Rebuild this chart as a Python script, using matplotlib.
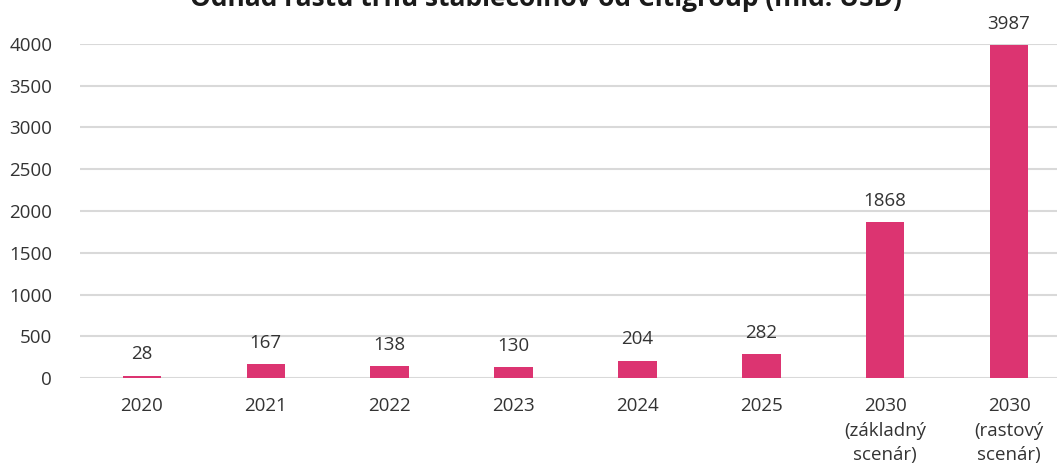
import matplotlib
matplotlib.use('Agg')
import matplotlib.pyplot as plt
import numpy as np

plt.rcParams['font.family'] = ['Open Sans', 'DejaVu Sans']

categories = ['2020', '2021', '2022', '2023', '2024', '2025',
              '2030\n(základný\nscenár)', '2030\n(rastový\nscenár)']
values = [28, 167, 138, 130, 204, 282, 1868, 3987]
title = 'Odhad rastu trhu stablecoinov od Citigroup (mld. USD)'

W, H = 1057, 468
fig = plt.figure(figsize=(W / 100, H / 100), dpi=100)
# axes extends slightly past the right edge, as in the cropped original
ax = fig.add_axes([80 / W, 90 / H, 991 / W, 334 / H])

x = np.arange(len(categories))
bars = ax.bar(x, values, width=0.31, color='#DC3471', zorder=2)
ax.bar_label(bars, padding=9, fontsize=13.5, color='#333333', clip_on=False)

ax.set_xlim(-0.5, len(categories) - 0.5)
ax.set_ylim(0, 4000)
ax.set_yticks(np.arange(0, 4001, 500))
ax.set_xticks(x, categories)
ax.tick_params(axis='both', length=0, labelsize=13.5, colors='#333333')
ax.tick_params(axis='x', pad=14)
ax.tick_params(axis='y', pad=20)
for lab in ax.get_xticklabels():
    lab.set_linespacing(1.45)
ax.grid(axis='y', color='#D9D9D9', linewidth=1.5, zorder=0)
ax.set_axisbelow(True)
for s in ax.spines.values():
    s.set_visible(False)

fig.text(546 / W, 1 - 6 / H, title, ha='center', va='baseline',
         fontsize=19, fontweight='bold', color='#1a1a1a')

fig.savefig('out.png', dpi=100)
